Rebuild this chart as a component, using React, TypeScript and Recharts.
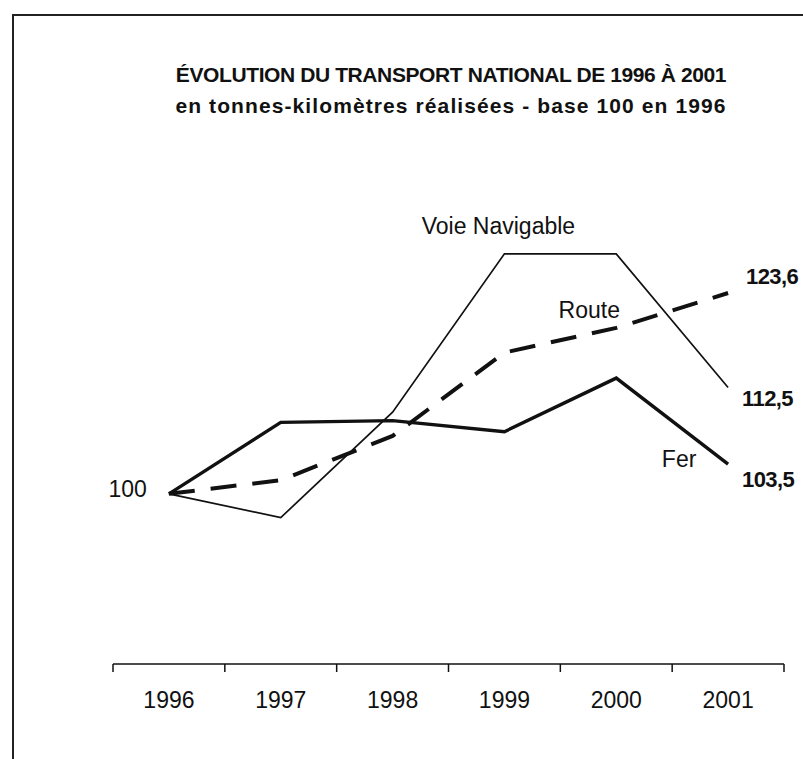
import { LineChart, Line, XAxis, YAxis, LabelList } from 'recharts'

// base 100 en 1996
const years = ['1996', '1997', '1998', '1999', '2000', '2001']
const voieNavigable = [100, 97.2, 109.6, 128.2, 128.2, 112.5]
const route = [100, 101.6, 106.8, 116.6, 119.5, 123.6]
const fer = [100, 108.4, 108.6, 107.3, 113.6, 103.5]
const endValues = { voie: '112,5', route: '123,6', fer: '103,5' }
const baseLabel = '100'

const data = years.map((year, i) => ({
  year,
  voie: voieNavigable[i],
  route: route[i],
  fer: fer[i],
}))

const W = 803
const H = 759
const M = { top: 196, right: 19, bottom: 35, left: 113 }
const AXIS_H = 60
const BAND = (W - M.left - M.right) / years.length
const FONT = '"Liberation Sans", Arial, Helvetica, sans-serif'

function YearTick({ x, y, payload, index }: any) {
  const last = index === years.length - 1
  return (
    <g transform={`translate(${x},${y})`}>
      <line x1={-BAND / 2} y1={0} x2={-BAND / 2} y2={8} stroke="#111" strokeWidth={1.5} />
      {last && <line x1={BAND / 2} y1={0} x2={BAND / 2} y2={8} stroke="#111" strokeWidth={1.5} />}
      <text x={0} y={44} textAnchor="middle" fontFamily={FONT} fontSize={23} fill="#111">
        {payload.value}
      </text>
    </g>
  )
}

type Note = { index: number; text: string; dx: number; dy: number; anchor: string; bold?: boolean; size: number }

function notes(list: Note[]) {
  return function NoteLabel({ x, y, index }: any) {
    const hits = list.filter((n) => n.index === index)
    if (!hits.length) return null
    return (
      <g>
        {hits.map((n) => (
          <text
            key={n.text}
            x={x + n.dx}
            y={y + n.dy}
            textAnchor={n.anchor as any}
            dominantBaseline="central"
            fontFamily={FONT}
            fontSize={n.size}
            fontWeight={n.bold ? 700 : 400}
            letterSpacing={n.bold ? -0.6 : 0}
            fill="#111"
          >
            {n.text}
          </text>
        ))}
      </g>
    )
  }
}

const voieNotes = notes([
  { index: 3, text: 'Voie Navigable', dx: -6, dy: -28, anchor: 'middle', size: 23 },
  { index: 5, text: endValues.voie, dx: 14, dy: 11, anchor: 'start', bold: true, size: 22 },
])
const routeNotes = notes([
  { index: 4, text: 'Route', dx: -27, dy: -18, anchor: 'middle', size: 23 },
  { index: 5, text: endValues.route, dx: 18, dy: -17, anchor: 'start', bold: true, size: 22 },
])
const ferNotes = notes([
  { index: 0, text: baseLabel, dx: -22, dy: -5, anchor: 'end', size: 23 },
  { index: 5, text: 'Fer', dx: -49, dy: -5, anchor: 'middle', size: 23 },
  { index: 5, text: endValues.fer, dx: 14, dy: 15, anchor: 'start', bold: true, size: 22 },
])

export default function App() {
  return (
    <div style={{ position: 'absolute', left: 0, top: 0, width: W, height: H, background: '#fff', fontFamily: FONT }}>
      <div
        style={{
          position: 'absolute',
          left: 12,
          top: 14,
          right: 0,
          bottom: 0,
          borderTop: '2px solid #222',
          borderLeft: '2px solid #222',
        }}
      />
      <div
        style={{
          position: 'absolute',
          left: 0,
          width: 902,
          top: 59,
          textAlign: 'center',
          fontWeight: 700,
          fontSize: 21,
          lineHeight: '31px',
          color: '#111',
        }}
      >
        <div style={{ letterSpacing: -0.4 }}>ÉVOLUTION DU TRANSPORT NATIONAL DE 1996 À 2001</div>
        <div style={{ letterSpacing: 1.1 }}>en tonnes-kilomètres réalisées - base 100 en 1996</div>
      </div>
      <div style={{ position: 'absolute', left: 0, top: 0 }}>
        <LineChart width={W} height={H} data={data} margin={M}>
          <XAxis
            dataKey="year"
            scale="band"
            height={AXIS_H}
            tickLine={false}
            tickSize={0}
            tickMargin={0}
            axisLine={{ stroke: '#111', strokeWidth: 1.5 }}
            tick={<YearTick />}
            interval={0}
          />
          <YAxis hide domain={[80, 135]} />
          <Line
            type="linear"
            dataKey="voie"
            stroke="#111"
            strokeWidth={1.7}
            dot={false}
            isAnimationActive={false}
          >
            <LabelList dataKey="voie" content={voieNotes} />
          </Line>
          <Line
            type="linear"
            dataKey="route"
            stroke="#111"
            strokeWidth={4}
            strokeDasharray="26 16"
            dot={false}
            isAnimationActive={false}
          >
            <LabelList dataKey="route" content={routeNotes} />
          </Line>
          <Line
            type="linear"
            dataKey="fer"
            stroke="#111"
            strokeWidth={3.4}
            dot={false}
            isAnimationActive={false}
          >
            <LabelList dataKey="fer" content={ferNotes} />
          </Line>
        </LineChart>
      </div>
    </div>
  )
}
